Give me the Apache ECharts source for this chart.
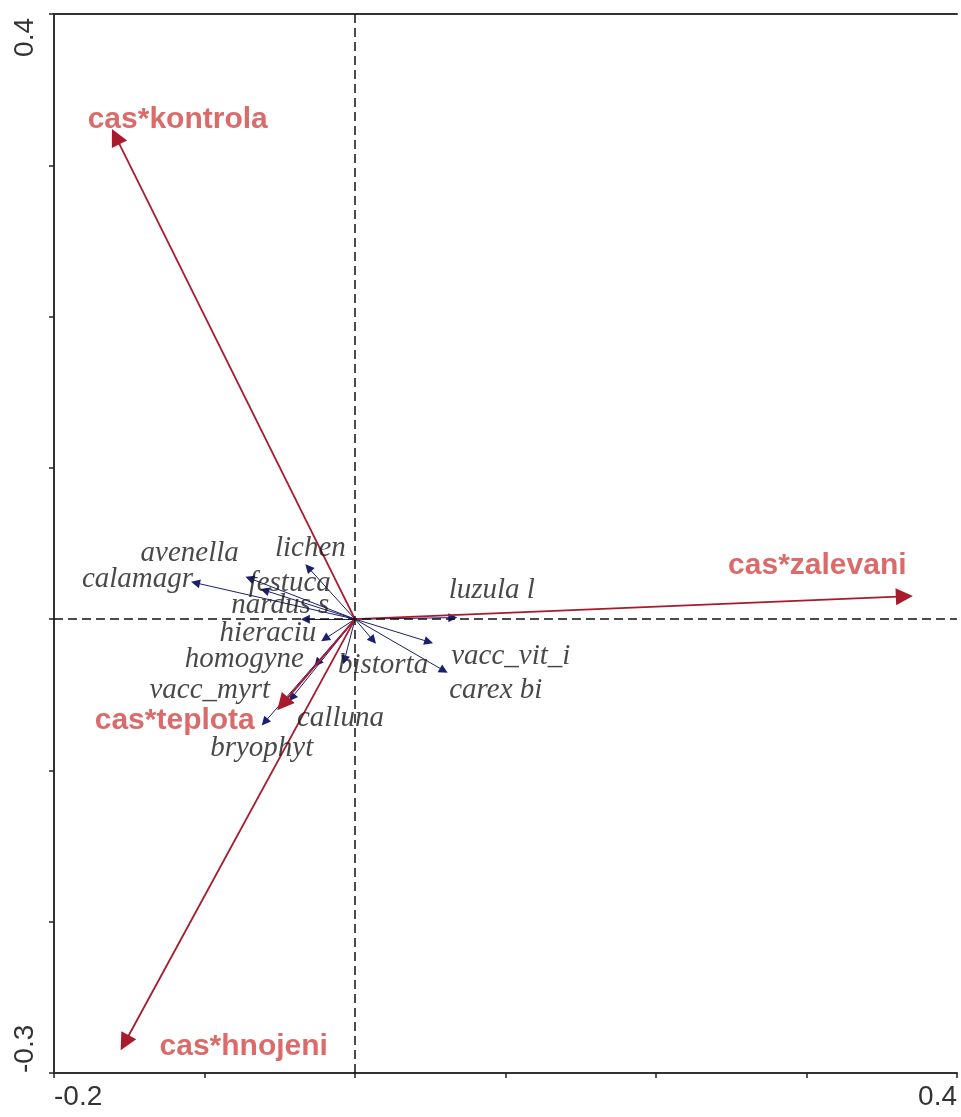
<!DOCTYPE html>
<html>
<head>
<meta charset="utf-8">
<script src="https://cdn.jsdelivr.net/npm/echarts@6/dist/echarts.min.js"></script>
<style>
  html, body { margin: 0; padding: 0; background: #fff; }
  #chart { width: 961px; height: 1117px; }
</style>
</head>
<body>
<div id="chart"></div>
<script>
// environmental (red) arrows
const envNames = ['cas*kontrola', 'cas*zalevani', 'cas*teplota', 'cas*hnojeni']
const envX = [-0.159, 0.365, -0.048, -0.153]
const envY = [0.319, 0.015, -0.056, -0.280]

// species (blue) arrows
const speciesNames = ['calamagr', 'avenella', 'festuca', 'lichen', 'nardus s', 'hieraciu', 'homogyne',
  'vacc_myrt', 'bryophyt', 'calluna', 'bistorta', 'vacc_vit_i', 'carex bi', 'luzula l']
const speciesX = [-0.106, -0.070, -0.060, -0.031, -0.033, -0.020, -0.025,
  -0.042, -0.060, -0.007, 0.012, 0.049, 0.059, 0.065]
const speciesY = [0.024, 0.027, 0.019, 0.034, 0.000, -0.013, -0.029,
  -0.052, -0.068, -0.027, -0.014, -0.015, -0.034, 0.001]

const xTickLabels = ['-0.2', '0.4']
const yTickLabels = ['-0.3', '0.4']

// where each label sits relative to its arrow tip (px)
const envLabelOffset = {
  'cas*kontrola': [62, -17],
  'cas*zalevani': [-87, -31],
  'cas*teplota': [-108, 17],
  'cas*hnojeni': [119, 4]
}
const speciesLabelOffset = {
  'calamagr': [-58, -3],
  'avenella': [-60, -25],
  'festuca': [25, -7],
  'lichen': [2, -19],
  'nardus s': [-25, -14],
  'hieraciu': [-57, -5],
  'homogyne': [-73, -4],
  'vacc_myrt': [-82, -7],
  'bryophyt': [-3, 26],
  'calluna': [-4, 58],
  'bistorta': [10, 25],
  'vacc_vit_i': [82, 15],
  'carex bi': [52, 20],
  'luzula l': [39, -27]
}

const chart = echarts.init(document.getElementById('chart'))

const axisLineStyle = { color: '#333', width: 2 }

function tickFormatter(shown) {
  return function(v) {
    const s = v.toFixed(1)
    return shown.indexOf(s) >= 0 ? s : ''
  }
}

const envLines = envNames.map((n, i) => ({ name: n, coords: [[0, 0], [envX[i], envY[i]]] }))
const speciesLines = speciesNames.map((n, i) => ({ name: n, coords: [[0, 0], [speciesX[i], speciesY[i]]] }))

const envLabels = envNames.map((n, i) => ({
  name: n,
  value: [envX[i], envY[i]],
  label: { offset: envLabelOffset[n] }
}))
const speciesLabels = speciesNames.map((n, i) => ({
  name: n,
  value: [speciesX[i], speciesY[i]],
  label: { offset: speciesLabelOffset[n] }
}))

const option = {
  animation: false,
  backgroundColor: '#fff',
  grid: {
    left: 54, right: 4, top: 14, bottom: 44,
    outerBoundsMode: 'none'
  },
  xAxis: [{
    type: 'value',
    min: -0.2, max: 0.4, interval: 0.1,
    axisLine: { show: true, onZero: false, lineStyle: axisLineStyle },
    axisTick: { show: true, length: 5, lineStyle: { color: '#222', width: 1.5 } },
    splitLine: { show: false },
    axisLabel: {
      formatter: tickFormatter(xTickLabels),
      fontFamily: 'Liberation Sans',
      fontSize: 28,
      color: '#333',
      margin: 10,
      alignMinLabel: 'left',
      alignMaxLabel: 'right'
    }
  }, {
    type: 'value',
    position: 'top',
    min: -0.2, max: 0.4,
    axisLine: { show: true, onZero: false, lineStyle: axisLineStyle },
    axisTick: { show: false },
    axisLabel: { show: false },
    splitLine: { show: false }
  }],
  yAxis: {
    type: 'value',
    min: -0.3, max: 0.4, interval: 0.1,
    axisLine: { show: true, onZero: false, lineStyle: axisLineStyle },
    axisTick: { show: true, length: 5, lineStyle: { color: '#222', width: 1.5 } },
    splitLine: { show: false },
    axisLabel: {
      formatter: tickFormatter(yTickLabels),
      rotate: 90,
      fontFamily: 'Liberation Sans',
      fontSize: 28,
      color: '#333',
      margin: 15,
      alignMinLabel: 'left',
      alignMaxLabel: 'right',
      padding: [0, 4, 0, 0]
    }
  },
  series: [
    {
      // dashed zero lines
      type: 'scatter',
      data: [],
      silent: true,
      markLine: {
        silent: true,
        symbol: 'none',
        label: { show: false },
        lineStyle: { color: '#111', width: 1.5, type: [9, 5] },
        data: [{ xAxis: 0 }, { yAxis: 0 }]
      }
    },
    {
      type: 'lines',
      coordinateSystem: 'cartesian2d',
      symbol: ['none', 'triangle'],
      symbolSize: 9,
      lineStyle: { color: '#1c1f6e', width: 1, opacity: 1 },
      itemStyle: { color: '#1c1f6e' },
      data: speciesLines,
      z: 3
    },
    {
      type: 'lines',
      coordinateSystem: 'cartesian2d',
      symbol: ['none', 'triangle'],
      symbolSize: 17,
      lineStyle: { color: '#a81a2c', width: 1.8, opacity: 1 },
      itemStyle: { color: '#cc0a2a' },
      data: envLines,
      z: 4
    },
    {
      type: 'scatter',
      symbolSize: 1,
      itemStyle: { color: 'transparent' },
      silent: true,
      label: {
        show: true,
        position: 'inside',
        formatter: '{b}',
        fontFamily: 'Liberation Serif',
        fontStyle: 'italic',
        fontSize: 29,
        color: '#1a1a1a',
        align: 'center',
        verticalAlign: 'middle'
      },
      data: speciesLabels,
      z: 5
    },
    {
      type: 'scatter',
      symbolSize: 1,
      itemStyle: { color: 'transparent' },
      silent: true,
      label: {
        show: true,
        position: 'inside',
        formatter: '{b}',
        fontFamily: 'Liberation Sans',
        fontWeight: 'bold',
        fontSize: 30,
        color: '#d24646',
        align: 'center',
        verticalAlign: 'middle'
      },
      data: envLabels,
      z: 6
    }
  ]
}

chart.setOption(option)
</script>
</body>
</html>
